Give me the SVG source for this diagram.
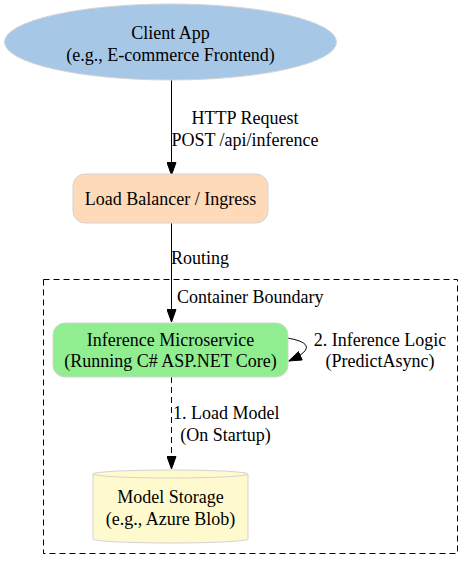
<svg xmlns="http://www.w3.org/2000/svg" width="474" height="571" viewBox="0 0 474 571">
<defs>
<style>
.c{text-anchor:middle}
.node{stroke:#d3d3d3;stroke-width:1}
.edge{stroke:#000;stroke-width:1;fill:none}
</style>
<marker id="ah" markerWidth="14" markerHeight="10" refX="13" refY="5" orient="auto" markerUnits="userSpaceOnUse" viewBox="0 0 14 10">
<path d="M0.5,0.5 L13,5 L0.5,9.5 Z" fill="#000" stroke="#000"/>
</marker>
</defs>
<rect width="474" height="571" fill="#fff"/>
<g font-family="'Liberation Serif', 'Times New Roman', serif" font-size="18" fill="#000">
<g id="cluster">
<rect x="43.5" y="279.5" width="414" height="274" fill="none" stroke="#000" stroke-dasharray="6,4"/>
<text x="177" y="303">Container Boundary</text>
</g>
<g id="edges">
<line class="edge" x1="171.5" y1="80" x2="171.5" y2="175" marker-end="url(#ah)"/>
<text class="c" x="245" y="124">HTTP Request</text>
<text class="c" x="245" y="146">POST /api/inference</text>
<line class="edge" x1="171.5" y1="223" x2="171.5" y2="322" marker-end="url(#ah)"/>
<text x="171" y="264">Routing</text>
<path class="edge" d="M287,338 C306,341 318,348 289,361" marker-end="url(#ah)"/>
<text class="c" x="380" y="346">2. Inference Logic</text>
<text class="c" x="380" y="367">(PredictAsync)</text>
<line class="edge" x1="171.5" y1="377" x2="171.5" y2="469" stroke-dasharray="6,4" marker-end="url(#ah)"/>
<text x="173" y="419">1. Load Model</text>
<text class="c" x="225.5" y="441">(On Startup)</text>
</g>
<g id="client">
<ellipse class="node" cx="170.5" cy="42" rx="166" ry="38" fill="#a7c7e7"/>
<text class="c" x="170.5" y="39">Client App</text>
<text class="c" x="170.5" y="61">(e.g., E-commerce Frontend)</text>
</g>
<g id="lb">
<rect class="node" x="73" y="174" width="195" height="49" rx="12" fill="#ffdab9"/>
<text class="c" x="170.5" y="205">Load Balancer / Ingress</text>
</g>
<g id="inference">
<rect class="node" x="53" y="323" width="235" height="54" rx="12" fill="#90ee90"/>
<text class="c" x="170.5" y="346">Inference Microservice</text>
<text class="c" x="170.5" y="367">(Running C# ASP.NET Core)</text>
</g>
<g id="storage">
<path class="node" d="M93,474 A77.5,4 0 0 1 248,474 L248,539 A77.5,4 0 0 1 93,539 Z" fill="#fffacd"/>
<path class="node" d="M248,474 A77.5,4 0 0 1 93,474" fill="none"/>
<text class="c" x="170.5" y="503">Model Storage</text>
<text class="c" x="170.5" y="525">(e.g., Azure Blob)</text>
</g>
</g>
</svg>
